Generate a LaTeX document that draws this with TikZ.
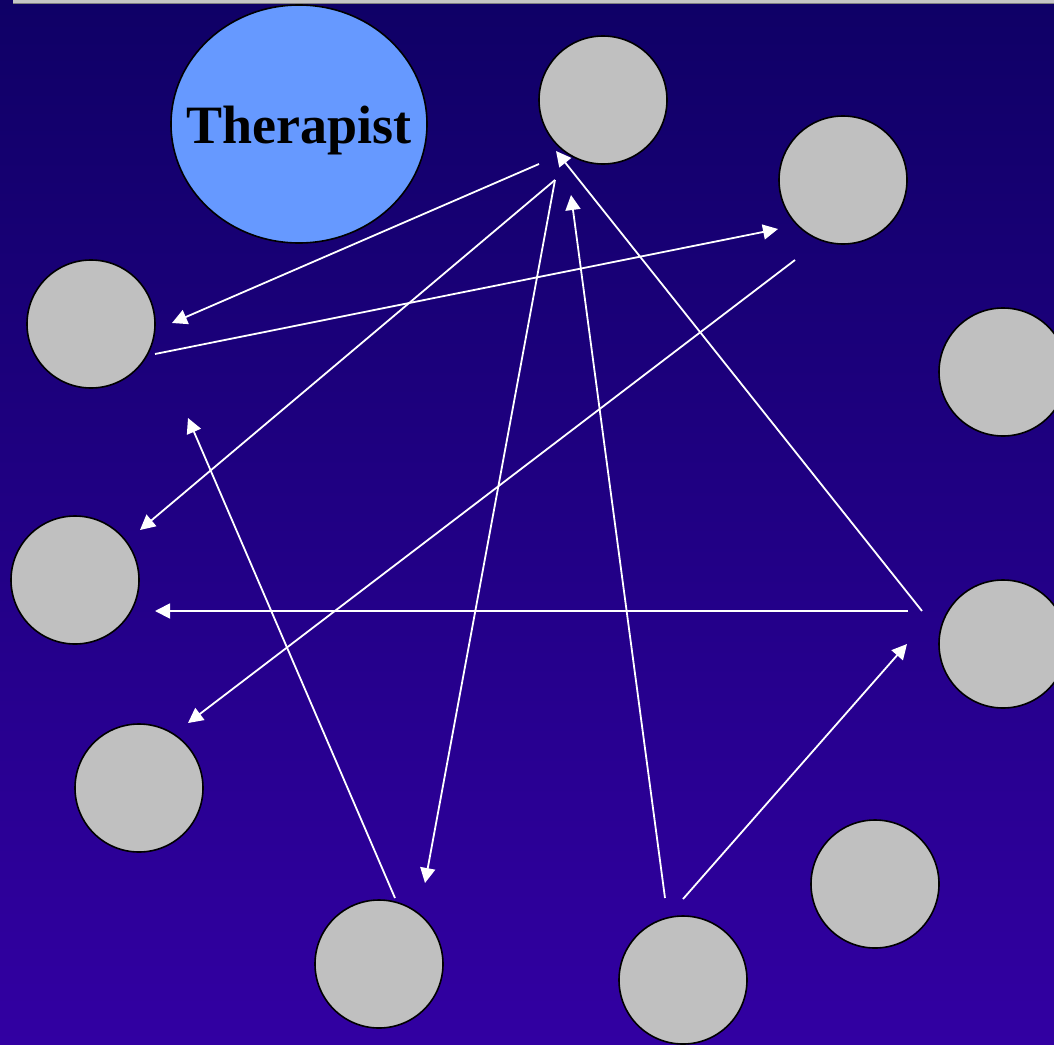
\documentclass[tikz,border=0pt]{standalone}
\usepackage{fontspec}
\setmainfont{Liberation Serif}
\usepackage{tikz}
\usetikzlibrary{arrows.meta,positioning,calc}
\definecolor{bgtop}{RGB}{15,0,102}
\definecolor{bgbottom}{RGB}{50,0,162}
\definecolor{therapistblue}{RGB}{102,153,255}
\definecolor{membergray}{RGB}{192,192,192}

\begin{document}
\begin{tikzpicture}[x=1pt,y=-1pt,
    member/.style={circle,draw=black,line width=1.6pt,fill=membergray,minimum size=128pt,inner sep=0pt},
    talk/.style={white,line width=1.8pt,-{Triangle[length=15pt,width=15pt]}}]
      \useasboundingbox (0,0) rectangle (1054,1044);
      \clip (0,0) rectangle (1054,1044);
      \shade[top color=bgtop,bottom color=bgbottom] (0,0) rectangle (1054,1044);
      \fill[gray!45] (13,0) rectangle (1054,3);
      \draw[gray,line width=1pt] (13,3.5) -- (1054,3.5);

      % therapist and group members
      \draw[black,line width=1.6pt,fill=therapistblue] (299,124) ellipse [x radius=128,y radius=119];
      \node[font=\fontsize{54}{60}\selectfont\bfseries] (therapist) at (299,131) {Therapist};
      \node[member] (m1) at (603,100) {};
      \node[member] (m2) at (843,180) {};
      \node[member] (m3) at (1003,372) {};
      \node[member] (m4) at (91,324) {};
      \node[member] (m5) at (75,580) {};
      \node[member] (m6) at (1003,644) {};
      \node[member] (m7) at (139,788) {};
      \node[member] (m8) at (875,884) {};
      \node[member] (m9) at (379,964) {};
      \node[member] (m10) at (683,980) {};

      % free ends of the messages
      \coordinate (m1a) at (539,164);
      \coordinate (m1b) at (555,180);
      \coordinate (m1c) at (571,195);
      \coordinate (m1d) at (556,151);
      \coordinate (m2a) at (778,229);
      \coordinate (m2b) at (795,260);
      \coordinate (m4a) at (172,323);
      \coordinate (m4b) at (155,354);
      \coordinate (m4c) at (188,418);
      \coordinate (m5a) at (140,530);
      \coordinate (m5b) at (155,611);
      \coordinate (m6a) at (922,611);
      \coordinate (m6b) at (908,611);
      \coordinate (m6c) at (907,644);
      \coordinate (m7a) at (188,723);
      \coordinate (m9a) at (425,883);
      \coordinate (m9b) at (395,898);
      \coordinate (m10a) at (665,898);
      \coordinate (m10b) at (683,899);

      \draw[talk] (m1a) -- (m4a);
      \draw[talk] (m4b) -- (m2a);
      \draw[talk] (m1b) -- (m5a);
      \draw[talk] (m1b) -- (m9a);
      \draw[talk] (m10a) -- (m1c);
      \draw[talk] (m6a) -- (m1d);
      \draw[talk] (m6b) -- (m5b);
      \draw[talk] (m2b) -- (m7a);
      \draw[talk] (m9b) -- (m4c);
      \draw[talk] (m10b) -- (m6c);
    \end{tikzpicture}
\end{document}
